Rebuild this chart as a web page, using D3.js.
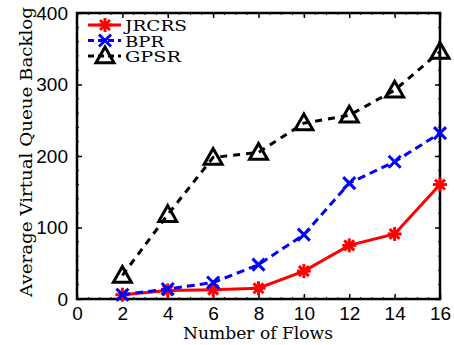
<!DOCTYPE html>
<html>
<head>
<meta charset="utf-8">
<script src="https://cdn.jsdelivr.net/npm/d3@7"></script>
<style>
  body { margin: 0; background: #fff; }
  svg { display: block; }
</style>
</head>
<body>
<div id="chart"></div>
<script>
var flows = [2, 4, 6, 8, 10, 12, 14, 16];
var jrcrs = [6, 12, 13, 15, 39, 75, 91, 160];
var bpr = [6, 14, 23, 48, 90, 162, 192, 232];
var gpsr = [33, 118, 198, 205, 246, 257, 292, 346];
var xTicks = [0, 2, 4, 6, 8, 10, 12, 14, 16];
var yTicks = [0, 100, 200, 300, 400];
var seriesNames = ['JRCRS', 'BPR', 'GPSR'];

var W = 454, H = 345;
var svg = d3.select('#chart').append('svg').attr('width', W).attr('height', H);

var x = d3.scaleLinear().domain([0, 16]).range([77, 440]);
var y = d3.scaleLinear().domain([0, 400]).range([299, 13]);

var TICK_FONT = '"Liberation Sans", Arial, sans-serif';
var SERIF = '"DejaVu Serif", "Liberation Serif", serif';

// minor ticks (drawn inward on all four sides)
var minorX = d3.range(0, 16.01, 0.5), minorY = d3.range(0, 400.1, 20);
var g = svg.append('g');
minorX.forEach(function (v) {
  g.append('line').attr('x1', x(v)).attr('x2', x(v)).attr('y1', y(0)).attr('y2', y(0) - 2)
    .attr('stroke', '#000').attr('stroke-width', 1);
  g.append('line').attr('x1', x(v)).attr('x2', x(v)).attr('y1', y(400)).attr('y2', y(400) + 2)
    .attr('stroke', '#000').attr('stroke-width', 1);
});
minorY.forEach(function (v) {
  g.append('line').attr('x1', x(0)).attr('x2', x(0) + 2).attr('y1', y(v)).attr('y2', y(v))
    .attr('stroke', '#000').attr('stroke-width', 1);
  g.append('line').attr('x1', x(16)).attr('x2', x(16) - 2).attr('y1', y(v)).attr('y2', y(v))
    .attr('stroke', '#000').attr('stroke-width', 1);
});

// axes with inward major ticks
function styleAxis(sel) {
  sel.select('.domain').remove();
  sel.selectAll('line').attr('stroke', '#000').attr('stroke-width', 1.5);
  sel.selectAll('text').attr('font-family', TICK_FONT).attr('font-size', 19).attr('fill', '#000');
}
svg.append('g').attr('transform', 'translate(0,' + y(0) + ')')
  .call(d3.axisBottom(x).tickValues(xTicks).tickSize(-5).tickPadding(8).tickFormat(d3.format('d')))
  .call(styleAxis);
svg.append('g').attr('transform', 'translate(0,' + y(400) + ')')
  .call(d3.axisTop(x).tickValues(xTicks).tickSize(-5).tickFormat(''))
  .call(styleAxis);
svg.append('g').attr('transform', 'translate(' + x(0) + ',0)')
  .call(d3.axisLeft(y).tickValues(yTicks).tickSize(-5).tickPadding(9).tickFormat(d3.format('d')))
  .call(styleAxis);
svg.append('g').attr('transform', 'translate(' + x(16) + ',0)')
  .call(d3.axisRight(y).tickValues(yTicks).tickSize(-5).tickFormat(''))
  .call(styleAxis);

// box
svg.append('rect').attr('x', x(0)).attr('y', y(400))
  .attr('width', x(16) - x(0)).attr('height', y(0) - y(400))
  .attr('fill', 'none').attr('stroke', '#000').attr('stroke-width', 2.5);

// markers
function asterisk(sel, r) {
  [0, 45, 90, 135].forEach(function (a) {
    var rad = a * Math.PI / 180;
    sel.append('line')
      .attr('x1', -r * Math.cos(rad)).attr('y1', -r * Math.sin(rad))
      .attr('x2', r * Math.cos(rad)).attr('y2', r * Math.sin(rad));
  });
}
function cross(sel, r) {
  sel.append('line').attr('x1', -r).attr('y1', -r).attr('x2', r).attr('y2', r);
  sel.append('line').attr('x1', -r).attr('y1', r).attr('x2', r).attr('y2', -r);
}
function triangle(sel, r) {
  sel.append('path').attr('d', 'M0,' + (-r) + 'L' + r + ',' + (r * 0.75) + 'L' + (-r) + ',' + (r * 0.75) + 'Z')
    .attr('fill', 'none');
}

var series = [
  { name: seriesNames[0], values: jrcrs, color: '#ff0000', dash: null, marker: asterisk, size: 7, w: 62 },
  { name: seriesNames[1], values: bpr, color: '#0000ff', dash: '8,5', marker: cross, size: 6, w: 39 },
  { name: seriesNames[2], values: gpsr, color: '#000000', dash: '7,6', marker: triangle, size: 9, w: 56 }
];

var line = d3.line().x(function (d) { return x(d[0]); }).y(function (d) { return y(d[1]); });

series.forEach(function (s) {
  var pts = flows.map(function (f, i) { return [f, s.values[i]]; });
  svg.append('path').datum(pts).attr('d', line)
    .attr('fill', 'none').attr('stroke', s.color).attr('stroke-width', 3)
    .attr('stroke-dasharray', s.dash);
  pts.forEach(function (p) {
    var m = svg.append('g').attr('transform', 'translate(' + x(p[0]) + ',' + y(p[1]) + ')')
      .attr('stroke', s.color).attr('stroke-width', 3);
    s.marker(m, s.size);
  });
});

// legend
series.forEach(function (s, i) {
  var ly = 25 + i * 15.5;
  svg.append('line').attr('x1', 88).attr('x2', 121).attr('y1', ly).attr('y2', ly)
    .attr('stroke', s.color).attr('stroke-width', 3).attr('stroke-dasharray', s.dash ? '6,4' : null);
  var m = svg.append('g').attr('transform', 'translate(105,' + ly + ')')
    .attr('stroke', s.color).attr('stroke-width', 3);
  s.marker(m, s.size);
  svg.append('text').attr('x', 125).attr('y', ly + 6)
    .attr('font-family', SERIF).attr('font-size', 14).attr('fill', '#000')
    .attr('textLength', s.w).attr('lengthAdjust', 'spacingAndGlyphs')
    .text(s.name);
});

// axis labels
svg.append('text').attr('x', 258).attr('y', 339).attr('text-anchor', 'middle')
  .attr('font-family', SERIF).attr('font-size', 17).attr('fill', '#000')
  .attr('textLength', 150).attr('lengthAdjust', 'spacingAndGlyphs')
  .text('Number of Flows');
svg.append('text').attr('transform', 'translate(32,152) rotate(-90)').attr('text-anchor', 'middle')
  .attr('font-family', SERIF).attr('font-size', 17).attr('fill', '#000')
  .attr('textLength', 290).attr('lengthAdjust', 'spacingAndGlyphs')
  .text('Average Virtual Queue Backlog');
</script>
</body>
</html>
